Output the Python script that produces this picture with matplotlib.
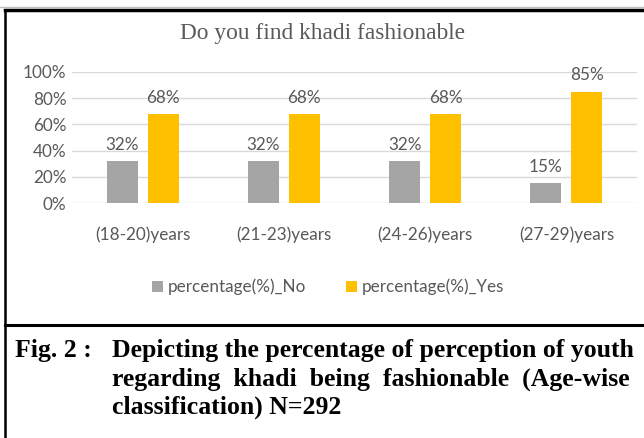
import numpy as np
import matplotlib
matplotlib.use('Agg')
import matplotlib.pyplot as plt
from matplotlib.lines import Line2D
from matplotlib.ticker import PercentFormatter

# data
categories = ['(18-20)years', '(21-23)years', '(24-26)years', '(27-29)years']
no_pct = [0.32, 0.32, 0.32, 0.15]
yes_pct = [0.68, 0.68, 0.68, 0.85]
series_names = ['percentage(%)_No', 'percentage(%)_Yes']
title = 'Do you find khadi fashionable'
caption_lead = 'Fig. 2 :'
caption_lines = ['Depicting the percentage of perception of youth',
                 'regarding  khadi  being  fashionable  (Age-wise',
                 'classification) N=292']

grey = '#a5a5a5'
gold = '#ffc000'
txt = '#595959'
W, H = 644, 438
fs = 12.3

plt.rcParams['font.family'] = ['Lato', 'DejaVu Sans']
fig = plt.figure(figsize=(W / 100, H / 100), dpi=100)
ax = fig.add_axes([72 / W, 1 - 203 / H, 565 / W, 131 / H])

x = np.arange(len(categories))
bw = 0.22
b1 = ax.bar(x - 0.145, no_pct, bw, color=grey, label=series_names[0])
b2 = ax.bar(x + 0.145, yes_pct, bw, color=gold, label=series_names[1])
for bars in (b1, b2):
    for r in bars:
        ax.annotate('%d%%' % round(r.get_height() * 100),
                    (r.get_x() + r.get_width() / 2, r.get_height()),
                    xytext=(0, 6), textcoords='offset points',
                    ha='center', va='bottom', fontsize=fs, color=txt)

ax.set_xlim(-0.5, 3.5)
ax.set_ylim(0, 1)
ax.set_yticks(np.arange(0, 1.01, 0.2))
ax.yaxis.set_major_formatter(PercentFormatter(1.0, decimals=0))
ax.set_xticks(x)
ax.set_xticklabels(categories)
ax.tick_params(length=0, labelsize=fs, colors=txt)
ax.tick_params(axis='x', pad=17)
ax.tick_params(axis='y', pad=4)
ax.grid(axis='y', color='#d9d9d9', linewidth=1)
ax.set_axisbelow(True)
for s in ax.spines.values():
    s.set_visible(False)

fig.text(322 / W, 1 - 34 / H, title, ha='center', va='center',
         fontsize=16.8, color=txt, family='Liberation Serif')

fig.legend(handles=[b1, b2], loc='center', bbox_to_anchor=(328 / W, 1 - 287 / H),
           ncol=2, frameon=False, fontsize=fs, labelcolor=txt,
           handlelength=0.65, handleheight=0.65, handletextpad=0.3, columnspacing=2.3)

# frame lines of the scanned box
fig.add_artist(Line2D([0, 1], [1 - 6.5 / H] * 2, color='#bdbdbd', lw=1))
fig.add_artist(Line2D([5 / W, 1], [1 - 10 / H] * 2, color='black', lw=2.5))
fig.add_artist(Line2D([5 / W, 1], [1 - 325 / H] * 2, color='black', lw=2.2))
fig.add_artist(Line2D([5 / W] * 2, [0, 1 - 10 / H], color='black', lw=1.8))

cap_font = dict(family='Liberation Serif', fontweight='bold', fontsize=18.5, color='black')
fig.text(15 / W, 1 - 351 / H, caption_lead, ha='left', va='center', **cap_font)
for i, line in enumerate(caption_lines):
    fig.text(112 / W, 1 - (351 + 28 * i) / H, line, ha='left', va='center', **cap_font)

fig.savefig('out.png', dpi=100, facecolor='white')
